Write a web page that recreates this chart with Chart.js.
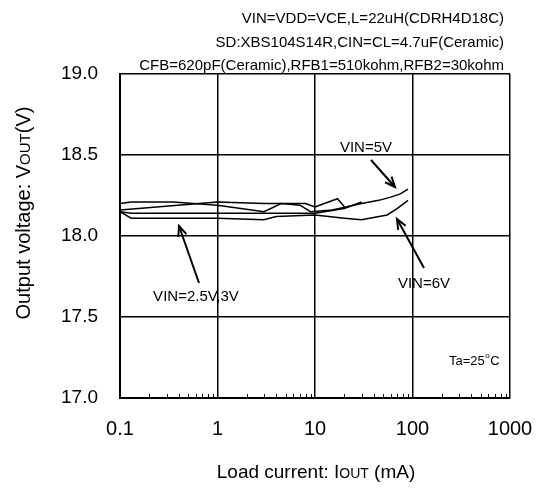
<!DOCTYPE html>
<html>
<head>
<meta charset="utf-8">
<script src="https://cdn.jsdelivr.net/npm/chart.js@4.4.0/dist/chart.umd.min.js"></script>
<style>
  html, body { margin: 0; padding: 0; background: #fff; }
  #wrap { width: 540px; height: 494px; position: relative; }
</style>
</head>
<body>
<div id="wrap"><canvas id="chart" width="540" height="494"></canvas></div>
<script>
// Load current (mA) / output voltage (V)
const vin5Current = [0.1, 0.13, 0.35, 1, 3, 4.5, 7, 9, 15, 30, 45, 60, 75, 90];
const vin5Voltage = [18.20, 18.21, 18.21, 18.19, 18.15, 18.20, 18.19, 18.15, 18.16, 18.20, 18.22, 18.24, 18.26, 18.29];

const vin6Current = [0.1, 0.13, 1, 3, 4, 10, 20, 30, 55, 70, 90];
const vin6Voltage = [18.15, 18.11, 18.11, 18.10, 18.12, 18.13, 18.11, 18.10, 18.13, 18.17, 18.22];

const vin25Current = [0.1, 1, 3, 5, 8, 10, 17, 20];
const vin25Voltage = [18.16, 18.21, 18.20, 18.20, 18.20, 18.18, 18.23, 18.18];

const vin3Current = [0.1, 0.13, 1, 10, 20, 30];
const vin3Voltage = [18.15, 18.14, 18.14, 18.14, 18.17, 18.21];

const xTicks = [0.1, 1, 10, 100, 1000];
const yTicks = [17.0, 17.5, 18.0, 18.5, 19.0];

const headerLines = [
    'VIN=VDD=VCE,L=22uH(CDRH4D18C)',
    'SD:XBS104S14R,CIN=CL=4.7uF(Ceramic)',
    'CFB=620pF(Ceramic),RFB1=510kohm,RFB2=30kohm'
];

const FONT = "'Liberation Sans', Arial, sans-serif";

function toPoints(xs, ys) {
    return xs.map((x, i) => ({ x: x, y: ys[i] }));
}

function makeSet(label, xs, ys) {
    return {
        label: label,
        data: toPoints(xs, ys),
        borderColor: '#000',
        borderWidth: 1.5,
        pointRadius: 0,
        tension: 0,
        fill: false
    };
}

// Small inward minor ticks on the bottom border, texts, arrows and axis titles
const decorPlugin = {
    id: 'decor',
    afterDraw(chart) {
        const ctx = chart.ctx;
        const xs = chart.scales.x;
        const area = chart.chartArea;
        ctx.save();

        // minor ticks
        ctx.strokeStyle = '#000';
        ctx.lineWidth = 1;
        for (let d = 0.1; d < 1000; d *= 10) {
            for (let m = 2; m <= 9; m++) {
                const px = Math.round(xs.getPixelForValue(d * m)) + 0.5;
                ctx.beginPath();
                ctx.moveTo(px, area.bottom);
                ctx.lineTo(px, area.bottom - 4);
                ctx.stroke();
            }
        }

        // header
        ctx.fillStyle = '#000';
        ctx.font = '15px ' + FONT;
        ctx.textAlign = 'right';
        ctx.textBaseline = 'middle';
        headerLines.forEach((t, i) => ctx.fillText(t, 504, 19 + i * 23.5));

        // in-plot labels
        ctx.textAlign = 'center';
        ctx.fillText('VIN=5V', 366, 148);
        ctx.fillText('VIN=6V', 424, 284);
        ctx.fillText('VIN=2.5V,3V', 196, 297);

        // Ta=25°C with superscript o
        ctx.textAlign = 'left';
        ctx.font = '13px ' + FONT;
        let tx = 449;
        ctx.fillText('Ta=25', tx, 361);
        tx += ctx.measureText('Ta=25').width;
        ctx.font = '8px ' + FONT;
        ctx.fillText('o', tx + 0.5, 356);
        tx += ctx.measureText('o').width + 1;
        ctx.font = '13px ' + FONT;
        ctx.fillText('C', tx, 361);

        // arrows
        const arrow = (x1, y1, x2, y2) => {
            ctx.lineWidth = 2;
            ctx.beginPath();
            ctx.moveTo(x1, y1);
            ctx.lineTo(x2, y2);
            ctx.stroke();
            const a = Math.atan2(y2 - y1, x2 - x1);
            const len = 11, spread = 0.4;
            ctx.beginPath();
            ctx.moveTo(x2 - len * Math.cos(a - spread), y2 - len * Math.sin(a - spread));
            ctx.lineTo(x2, y2);
            ctx.lineTo(x2 - len * Math.cos(a + spread), y2 - len * Math.sin(a + spread));
            ctx.stroke();
        };
        arrow(371, 160, 395, 187);
        arrow(424, 268, 397, 219);
        arrow(199, 283, 179, 226);

        // axis titles with small-caps subscripts
        const mixed = (parts, cx, cy) => {
            let w = 0;
            parts.forEach(p => { ctx.font = p[1] + 'px ' + FONT; w += ctx.measureText(p[0]).width; });
            let x = cx - w / 2;
            ctx.textAlign = 'left';
            ctx.textBaseline = 'alphabetic';
            parts.forEach(p => {
                ctx.font = p[1] + 'px ' + FONT;
                ctx.fillText(p[0], x, cy);
                x += ctx.measureText(p[0]).width;
            });
        };
        mixed([['Load current: I', 19], ['OUT', 14], [' (mA)', 19]], 316, 478);

        ctx.save();
        ctx.translate(30, 213);
        ctx.rotate(-Math.PI / 2);
        mixed([['Output voltage: V', 20], ['OUT', 15], ['(V)', 20]], 0, 0);
        ctx.restore();

        ctx.restore();
    }
};

new Chart(document.getElementById('chart'), {
    type: 'line',
    data: {
        datasets: [
            makeSet('VIN=5V', vin5Current, vin5Voltage),
            makeSet('VIN=6V', vin6Current, vin6Voltage),
            makeSet('VIN=2.5V', vin25Current, vin25Voltage),
            makeSet('VIN=3V', vin3Current, vin3Voltage)
        ]
    },
    options: {
        responsive: false,
        animation: false,
        events: [],
        layout: { padding: { left: 0, right: 30, top: 74, bottom: 0 } },
        plugins: {
            legend: { display: false },
            tooltip: { enabled: false }
        },
        scales: {
            x: {
                type: 'logarithmic',
                min: 0.1,
                max: 1000,
                afterBuildTicks: s => { s.ticks = xTicks.map(v => ({ value: v })); },
                afterFit: s => { s.height = 96; s.paddingLeft = 0; s.paddingRight = 0; },
                grid: { color: '#000', lineWidth: 1.5, drawTicks: false },
                border: { color: '#000', width: 2 },
                ticks: {
                    padding: 19,
                    color: '#000',
                    font: { family: FONT, size: 20 },
                    maxRotation: 0,
                    callback: v => String(v)
                }
            },
            y: {
                min: 17.0,
                max: 19.0,
                afterBuildTicks: s => { s.ticks = yTicks.map(v => ({ value: v })); },
                afterFit: s => { s.width = 120; s.paddingTop = 0; s.paddingBottom = 0; },
                grid: { color: '#000', lineWidth: 1.5, drawTicks: false },
                border: { color: '#000', width: 2 },
                ticks: {
                    padding: 22,
                    color: '#000',
                    font: { family: FONT, size: 19 },
                    callback: v => v.toFixed(1)
                }
            }
        }
    },
    plugins: [decorPlugin]
});
</script>
</body>
</html>
